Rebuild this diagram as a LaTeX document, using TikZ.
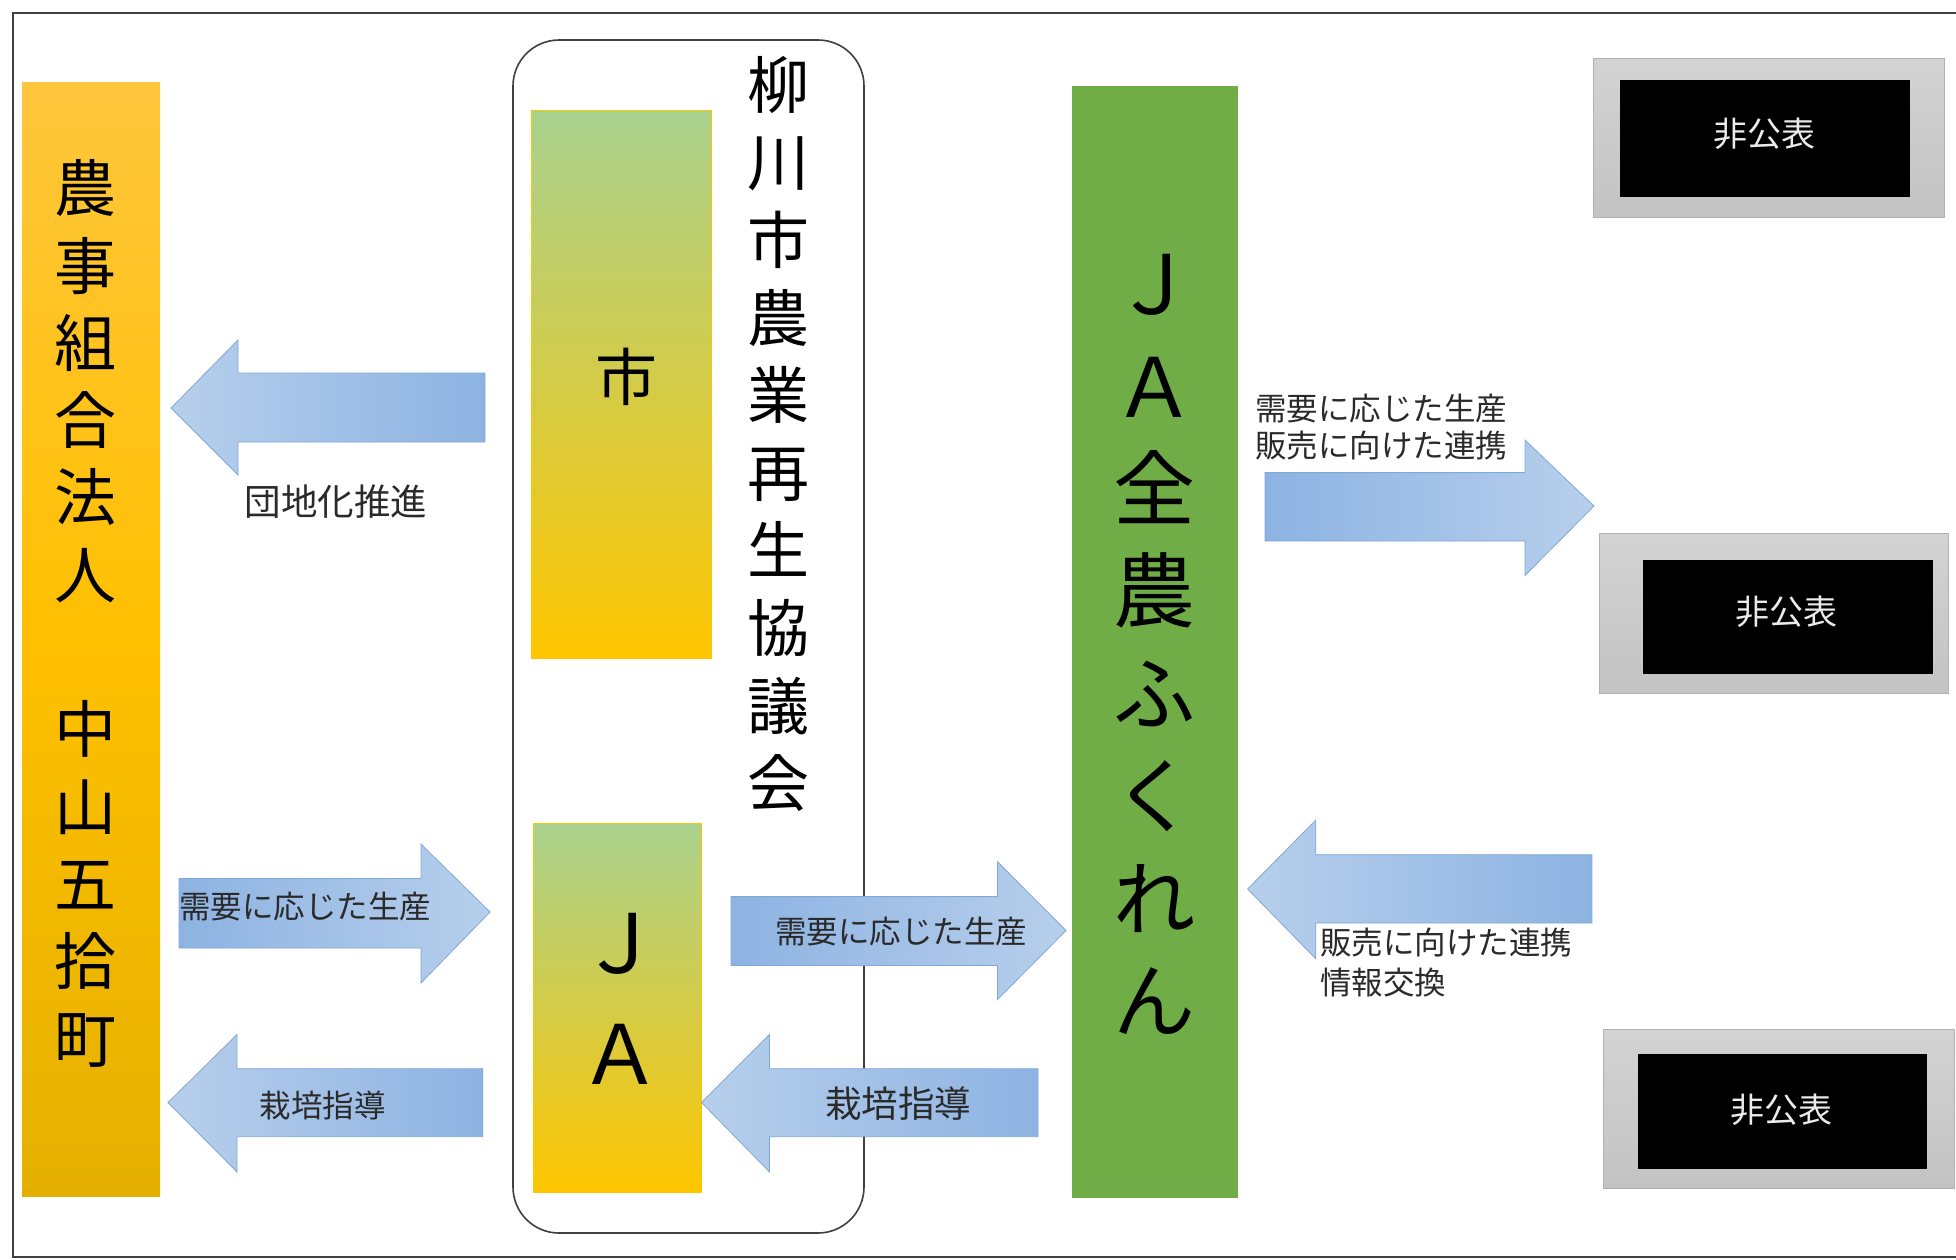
\documentclass[tikz,border=0pt]{standalone}
\usepackage{fontspec}
\setmainfont{Noto Sans CJK JP}
\definecolor{framec}{HTML}{404040}
\definecolor{orangeT}{HTML}{FEC63C}
\definecolor{orangeM}{HTML}{FFC000}
\definecolor{orangeB}{HTML}{E4B000}
\definecolor{greenT}{HTML}{A9D18E}
\definecolor{goldB}{HTML}{FFC600}
\definecolor{jagreen}{HTML}{70AD47}
\definecolor{bluedark}{HTML}{8DB3E2}
\definecolor{bluelight}{HTML}{B7CFEC}
\definecolor{blueedge}{HTML}{82A8D8}
\definecolor{grayT}{HTML}{D3D3D3}
\definecolor{grayB}{HTML}{C3C3C3}
\definecolor{grayedge}{HTML}{B0B0B0}
\definecolor{labelc}{HTML}{2A2A2A}
\tikzset{
  vcolA/.style={align=center, inner sep=0pt, font=\fontsize{62}{77.3}\selectfont},
  vcolB/.style={align=center, inner sep=0pt, font=\fontsize{62}{77.6}\selectfont},
  vcolC/.style={align=center, inner sep=0pt, font=\fontsize{82}{102.4}\selectfont},
  vcolD/.style={align=center, inner sep=0pt, font=\fontsize{82}{111}\selectfont},
  barL/.style={left color=bluelight, right color=bluedark, draw=blueedge, line width=0.8pt},
  barR/.style={left color=bluedark, right color=bluelight, draw=blueedge, line width=0.8pt},
  lblS/.style={inner sep=0pt, text=labelc, font=\fontsize{31.5}{37.3}\selectfont},
  lblM/.style={inner sep=0pt, text=labelc, font=\fontsize{36.5}{42}\selectfont},
  greenbar/.style={top color=greenT, bottom color=goldB, draw=goldB, line width=0.8pt},
  graybox/.style={top color=grayT, bottom color=grayB, draw=grayedge, line width=0.8pt},
  blackbox/.style={fill=black, draw=black},
  hidden/.style={inner sep=0pt, text=white!92!black, font=\fontsize{34}{40}\selectfont},
}
\begin{document}
\begin{tikzpicture}[x=1pt,y=-1pt]
\useasboundingbox (0,0) rectangle (1956,1259);
\fill[white] (0,0) rectangle (1956,1259);
% outer frame (right side outside picture)
\draw[framec, line width=2pt] (1956,12.5) -- (12.5,12.5) -- (12.5,1256.5) -- (1956,1256.5);

% council rounded box (behind the arrows)
\draw[framec, line width=1.6pt, rounded corners=46pt] (513,40) rectangle (864,1233);
\node[vcolB] (council) at (778,434) {柳\\川\\市\\農\\業\\再\\生\\協\\議\\会};

% left orange column
\fill[top color=orangeT, bottom color=orangeB, middle color=orangeM] (22,82) rectangle (160,1196);
\node[vcolA] (nouji) at (85,613.3) {農\\事\\組\\合\\法\\人\\\mbox{}\\中\\山\\五\\拾\\町};

% city and JA boxes
\path[greenbar] (531,110) rectangle (711,658);
\node[font=\fontsize{62}{70}\selectfont, inner sep=0pt] (shi) at (626,377) {市};
\path[greenbar] (533,823) rectangle (701.5,1192);
\node[vcolD] (ja) at (620,998.5) {Ｊ\\Ａ};

% JA Zennoh Fukuren
\fill[jagreen] (1072,86) rectangle (1238,1198);
\node[vcolC] (zennoh) at (1154,644.5) {Ｊ\\Ａ\\全\\農\\ふ\\く\\れ\\ん};

% arrows left side
\path[barL] (171,408) -- (238,340) -- (238,373) -- (485,373) -- (485,442) -- (238,442) -- (238,475) -- cycle;
\node[lblM] (l1) at (336,502) {団地化推進};

\path[barR] (179,878.4) -- (421,878.4) -- (421,844) -- (490,912) -- (421,983) -- (421,948) -- (179,948) -- cycle;
\node[lblS, anchor=west] (l2) at (179,907) {需要に応じた生産};

\path[barL] (168,1102.5) -- (237,1034.5) -- (237,1068.7) -- (482.6,1068.7) -- (482.6,1136.7) -- (237,1136.7) -- (237,1172) -- cycle;
\node[lblS] (l3) at (322.7,1105) {栽培指導};

% arrows middle
\path[barR] (731,896.6) -- (997.5,896.6) -- (997.5,861.7) -- (1066,930.5) -- (997.5,999.6) -- (997.5,965.4) -- (731,965.4) -- cycle;
\node[lblS] (l4) at (901,931.6) {需要に応じた生産};

\path[barL] (701.5,1102.5) -- (769.5,1034.5) -- (769.5,1068.7) -- (1038,1068.7) -- (1038,1136.7) -- (769.5,1136.7) -- (769.5,1172) -- cycle;
\node[lblM] (l5) at (898,1103.6) {栽培指導};

% arrows right side
\path[barR] (1265,472.6) -- (1525,472.6) -- (1525,440) -- (1594,506) -- (1525,575.5) -- (1525,541) -- (1265,541) -- cycle;
\node[lblS, anchor=west, align=left] (l6) at (1255,427) {需要に応じた生産\\販売に向けた連携};

\path[barL] (1247.6,889) -- (1315.8,820) -- (1315.8,854.7) -- (1592,854.7) -- (1592,923) -- (1315.8,923) -- (1315.8,958.8) -- cycle;
\node[lblS, anchor=west, align=left, font=\fontsize{31.5}{40}\selectfont] (l7) at (1320,963) {販売に向けた連携\\情報交換};

% undisclosed boxes
\path[graybox] (1593,58) rectangle (1944,217);
\path[blackbox] (1620,80) rectangle (1909,196);
\node[hidden] (h1) at (1764,134) {非公表};

\path[graybox] (1599,533) rectangle (1948,693);
\path[blackbox] (1643,560) rectangle (1932,673);
\node[hidden] (h2) at (1786,612) {非公表};

\path[graybox] (1603,1029) rectangle (1954,1188);
\path[blackbox] (1638,1054) rectangle (1926,1168);
\node[hidden] (h3) at (1781,1110) {非公表};
\end{tikzpicture}
\end{document}
